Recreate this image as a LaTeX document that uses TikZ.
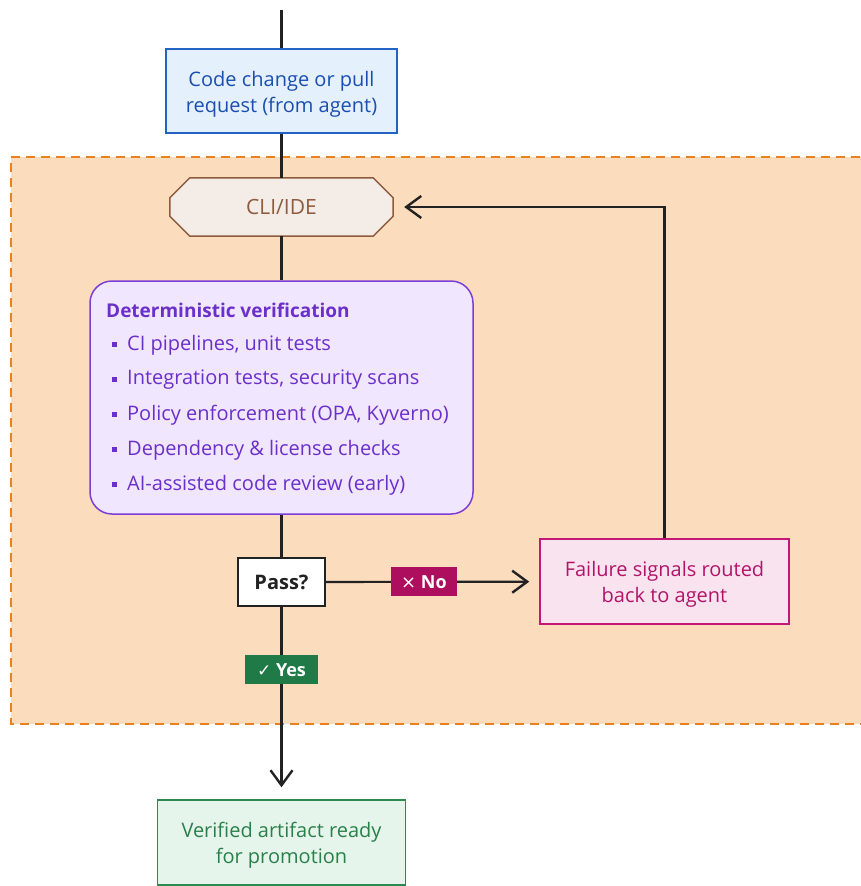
\documentclass[tikz,border=0pt]{standalone}
\usepackage{fontspec}
\setmainfont{Open Sans}
\newfontfamily\symfont{DejaVu Sans}
\usetikzlibrary{arrows.meta}

\definecolor{zonefill}{HTML}{FBDCBD}
\definecolor{zoneline}{HTML}{E8811E}
\definecolor{codefill}{HTML}{E5F0FD}
\definecolor{codeline}{HTML}{2462C4}
\definecolor{codetext}{HTML}{1A4FAF}
\definecolor{clifill}{HTML}{F4ECE6}
\definecolor{cliline}{HTML}{8E5B3E}
\definecolor{detfill}{HTML}{F0E6FD}
\definecolor{detline}{HTML}{7C3ED6}
\definecolor{dettext}{HTML}{6B2FCB}
\definecolor{nofill}{HTML}{AE0E5E}
\definecolor{failfill}{HTML}{F9E3EF}
\definecolor{failline}{HTML}{C21876}
\definecolor{failtext}{HTML}{B3146A}
\definecolor{yesfill}{HTML}{1F7A47}
\definecolor{artfill}{HTML}{E5F5EC}
\definecolor{artline}{HTML}{2B8A52}
\definecolor{arttext}{HTML}{2A8049}
\definecolor{ink}{HTML}{222222}

\tikzset{
  box/.style={draw, line width=1.5pt, inner sep=0pt},
  boxtext/.style={align=center, inner sep=0pt, yshift=-3pt,
    font=\fontsize{20}{26}\selectfont},
  flow/.style={draw=ink, line width=2.2pt},
  flowarrow/.style={flow, -{Straight Barb[length=15pt, width=22pt, line width=2.4pt]}},
  tag/.style={text=white, inner sep=0pt, minimum height=29pt,
    font=\fontsize{18}{20}\selectfont\bfseries},
  item/.style={anchor=west, text=dettext, inner sep=0pt,
    font=\fontsize{20}{22}\selectfont},
  bullet/.style={fill=dettext, inner sep=0pt, minimum size=5pt},
}

\begin{document}
\begin{tikzpicture}[x=1pt, y=-1pt]
  \useasboundingbox (0,0) rectangle (861,886);

  % verification zone
  \fill[zonefill] (11,157) rectangle (875,724);
  \draw[zoneline, line width=2pt, dash pattern=on 9pt off 6pt] (875,157) -- (11,157) -- (11,724) -- (875,724);

  % nodes
  \coordinate (start) at (281.5,10);
  \node[box, draw=codeline, fill=codefill, minimum width=231pt, minimum height=84pt] (code) at (281.5,91) {};
  \node[boxtext, text=codetext] (codetxt) at (code) {Code change or pull\\request (from agent)};

  \node[inner sep=0pt, minimum width=223pt, minimum height=58pt] (cli) at (281.5,207) {};
  \filldraw[fill=clifill, draw=cliline, line width=1.5pt]
    ([xshift=20pt]cli.north west) -- ([xshift=-20pt]cli.north east)
    -- ([yshift=-20pt]cli.north east) -- ([yshift=20pt]cli.south east)
    -- ([xshift=-20pt]cli.south east) -- ([xshift=20pt]cli.south west)
    -- ([yshift=20pt]cli.south west) -- ([yshift=-20pt]cli.north west) -- cycle;
  \node[text=cliline, inner sep=0pt, font=\fontsize{21}{22}\selectfont] (clitext) at (cli) {CLI/IDE};

  \node[box, draw=detline, fill=detfill, rounded corners=22pt, minimum width=383pt, minimum height=233pt]
    (det) at (281.5,397.5) {};
  \node[item, font=\fontsize{19}{22}\selectfont\bfseries] (dettitle) at (106,310) {Deterministic verification};
  \foreach \y/\t [count=\i] in {345/{CI pipelines, unit tests},
                               380/{Integration tests, security scans},
                               415/{Policy enforcement (OPA, Kyverno)},
                               450/{Dependency \& license checks},
                               485/{AI-assisted code review (early)}} {
    \node[bullet] (dot\i) at (114,\y-1) {};
    \node[item] (item\i) at (127,\y) {\t};
  }

  \node[box, draw=ink, fill=white, text=ink, minimum width=87pt, minimum height=48pt,
    font=\fontsize{20}{22}\selectfont\bfseries] (pass) at (281.5,582) {Pass?};

  \node[box, draw=failline, fill=failfill, minimum width=249pt, minimum height=85pt] (fail) at (664.5,581.5) {};
  \node[boxtext, text=failtext] (failtxt) at (fail) {Failure signals routed\\back to agent};

  \node[box, draw=artline, fill=artfill, minimum width=248pt, minimum height=85pt] (art) at (281.5,842.5) {};
  \node[boxtext, text=arttext] (arttxt) at (art) {Verified artifact ready\\for promotion};

  % connectors
  \draw[flow] (start) -- (code);
  \draw[flow] (code) -- (cli);
  \draw[flow] (cli) -- (det);
  \draw[flow] (det) -- (pass);
  \draw[flowarrow, shorten >=10pt] (pass) -- node[tag, fill=nofill, pos=0.46, minimum width=66pt]
    (nolabel) {{\symfont\mdseries ×}\ No} (fail);
  \draw[flowarrow, shorten >=11pt] (fail.north) |- (cli.east);
  \draw[flowarrow, shorten >=12pt] (pass) -- node[tag, fill=yesfill, pos=0.327, minimum width=73pt]
    (yeslabel) {{\symfont\mdseries\fontsize{17}{20}\selectfont ✓}\ Yes} (art);
\end{tikzpicture}
\end{document}
